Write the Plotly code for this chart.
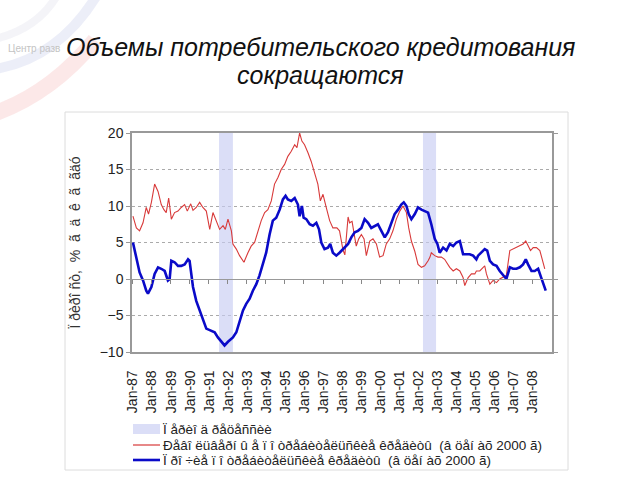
import plotly.graph_objects as go

# ---------------- data ----------------
red_x = [1987.00,1987.18,1987.35,1987.53,1987.70,1987.82,1987.97,1988.14,1988.32,1988.49,1988.63,1988.75,1988.88,
         1989.02,1989.19,1989.37,1989.54,1989.72,1989.86,1990.04,1990.16,1990.33,1990.51,1990.68,1990.86,1991.04,
         1991.21,1991.39,1991.56,1991.74,1991.86,1992.00,1992.18,1992.26,1992.44,1992.61,1992.84,1993.05,1993.22,
         1993.40,1993.58,1993.75,1993.93,1994.10,1994.28,1994.45,1994.63,1994.80,1994.98,1995.15,1995.33,1995.51,
         1995.63,1995.77,1995.89,1996.03,1996.21,1996.38,1996.56,1996.73,1996.86,1997.00,1997.17,1997.35,1997.52,
         1997.73,1997.87,1998.05,1998.15,1998.32,1998.40,1998.53,1998.67,1998.75,1998.88,1999.02,1999.16,1999.28,
         1999.46,1999.63,1999.81,1999.98,2000.16,2000.33,2000.51,2000.68,2000.86,2001.04,2001.21,2001.39,2001.51,
         2001.65,2001.83,2002.00,2002.18,2002.35,2002.53,2002.63,2002.70,2002.88,2003.05,2003.23,2003.40,2003.58,
         2003.67,2003.85,2004.02,2004.20,2004.37,2004.46,2004.64,2004.81,2004.99,2005.07,2005.25,2005.43,2005.51,
         2005.60,2005.78,2005.95,2006.13,2006.30,2006.48,2006.65,2006.83,2007.00,2007.18,2007.36,2007.53,2007.67,
         2007.79,2007.92,2008.06,2008.23,2008.41,2008.55,2008.67]
red_y = [8.6,7.0,6.6,7.7,9.8,8.9,10.5,13.0,12.0,10.2,9.5,9.1,11.1,
         8.2,9.1,9.3,9.8,10.2,9.3,10.3,9.4,9.8,10.5,9.8,9.3,6.8,
         9.1,8.0,6.8,7.3,6.8,8.2,6.6,4.8,4.1,3.2,2.3,3.6,4.5,
         5.0,6.6,8.0,9.1,9.5,10.7,13.0,13.9,15.0,15.7,16.8,17.5,18.4,
         18.0,20.0,18.9,18.4,17.3,16.1,14.5,13.0,10.7,11.6,9.8,8.0,7.0,
         7.0,6.6,4.0,3.3,8.5,7.7,7.9,5.7,4.5,5.5,6.1,5.5,3.2,
         5.2,5.5,4.8,3.0,3.2,4.8,5.5,6.6,8.2,9.3,10.0,9.1,7.0,
         5.2,3.8,2.0,1.6,1.8,2.5,3.0,3.6,3.2,3.0,3.0,2.7,2.0,
         1.6,1.1,1.4,1.1,0.2,-0.9,0.2,0.7,0.7,1.1,1.1,1.6,1.8,
         0.7,-0.7,-0.2,-0.5,0.0,0.2,0.5,3.9,4.1,4.3,4.5,4.8,5.2,
         4.5,3.9,4.3,4.3,3.9,2.5,1.4]

blue_x = [1987.00,1987.18,1987.35,1987.53,1987.70,1987.79,1987.97,1988.14,1988.32,1988.49,1988.67,1988.84,1988.93,
          1989.02,1989.19,1989.37,1989.54,1989.72,1989.90,1989.98,1990.16,1990.33,1990.51,1990.68,1990.86,1991.04,
          1991.30,1991.47,1991.65,1991.82,1992.00,1992.26,1992.44,1992.61,1992.79,1992.96,1993.14,1993.31,1993.49,
          1993.66,1993.84,1994.01,1994.19,1994.36,1994.54,1994.72,1994.89,1995.03,1995.15,1995.33,1995.51,1995.68,
          1995.77,1995.89,1995.98,1996.12,1996.30,1996.47,1996.65,1996.79,1996.91,1997.08,1997.26,1997.38,1997.52,
          1997.70,1997.87,1998.05,1998.14,1998.32,1998.49,1998.67,1998.84,1999.02,1999.19,1999.37,1999.54,1999.72,
          1999.89,2000.07,2000.25,2000.42,2000.60,2000.77,2000.95,2001.12,2001.25,2001.39,2001.51,2001.65,2001.83,
          2002.00,2002.18,2002.35,2002.53,2002.70,2002.88,2003.02,2003.14,2003.32,2003.50,2003.67,2003.85,2004.02,
          2004.20,2004.37,2004.55,2004.72,2004.90,2005.07,2005.16,2005.34,2005.51,2005.64,2005.78,2005.95,2006.13,
          2006.30,2006.48,2006.65,2006.83,2007.00,2007.18,2007.36,2007.53,2007.67,2007.79,2007.97,2008.14,2008.32,
          2008.44,2008.58,2008.72]
blue_y = [5.0,3.0,0.9,-0.2,-1.6,-2.0,-1.1,0.7,1.6,1.4,1.1,-0.2,0.0,
          2.5,2.3,1.8,1.8,2.0,2.7,2.5,-1.1,-3.0,-4.3,-5.7,-6.8,-7.0,
          -7.3,-8.0,-8.6,-9.1,-8.6,-8.0,-7.3,-5.7,-4.3,-3.4,-2.7,-1.6,-0.7,
          0.5,2.0,3.6,6.1,8.0,8.4,9.5,10.9,11.4,10.9,10.7,11.1,10.2,
          8.6,10.0,8.4,8.2,7.5,7.3,7.7,6.8,5.0,4.1,4.3,4.8,3.6,
          3.2,3.6,4.1,4.2,4.8,5.7,6.4,6.6,7.0,8.2,7.7,7.0,7.3,
          7.5,6.6,5.7,6.4,7.7,8.9,9.5,10.2,10.5,10.0,8.9,8.2,8.9,
          9.8,9.5,9.3,9.1,7.5,5.5,4.8,3.6,4.3,3.9,4.8,4.5,5.0,
          5.2,3.4,3.4,3.4,3.2,2.7,3.2,3.6,4.1,3.9,2.5,2.0,1.8,
          1.1,0.5,0.0,1.6,1.4,1.4,1.6,2.0,2.7,2.0,1.1,1.1,1.4,
          0.5,-0.7,-1.6]

recession_start = [1991.53, 2002.26]
recession_end = [1992.26, 2002.95]

tick_years = list(range(1987, 2009))
tick_labels = ["Jan-%02d" % (y % 100) for y in tick_years]

y_min, y_max = -10, 20

names = ["Ï åðèî ä ðåöåññèè",
         "Ðåâî ëüâåðí û å ï î òðåáèòåëüñêèå êðåäèòû  (â öåí àõ 2000 ã)",
         "Ï ðî ÷èå ï î òðåáèòåëüñêèå êðåäèòû  (â öåí àõ 2000 ã)"]
y_title = "Ï ðèðî ñò,  %  ã  ä  ê  ã  ãäó"
title1 = "Объемы потребительского кредитования"
title2 = "сокращаются"

# ---------------- figure ----------------
FONT = "Liberation Sans, Arial, sans-serif"
REC_COLOR = "rgba(200,205,242,0.65)"
RED = "#d83a3a"
BLUE = "#0a0ac8"
L, R, T, B = 132, 552, 133, 352
W, H = R - L, B - T
def px(x): return (x - L) / W
def py(y): return (B - y) / H

fig = go.Figure()

rx, ry = [], []
for a, b in zip(recession_start, recession_end):
    rx += [a, a, b, b, a, None]
    ry += [y_min, y_max, y_max, y_min, y_min, None]
fig.add_trace(go.Scatter(x=rx, y=ry, fill="toself", mode="lines",
                         fillcolor=REC_COLOR, line=dict(width=0, color=REC_COLOR),
                         name=names[0], hoverinfo="skip"))
fig.add_trace(go.Scatter(x=red_x, y=red_y, mode="lines", name=names[1],
                         line=dict(color=RED, width=1.1)))
fig.add_trace(go.Scatter(x=blue_x, y=blue_y, mode="lines", name=names[2],
                         line=dict(color=BLUE, width=2.6)))
fig.add_trace(go.Scatter(x=[tick_years[0]], y=[0], xaxis="x2", mode="markers",
                         marker=dict(opacity=0), showlegend=False, hoverinfo="skip"))

xr = [1986.95, 2009.05]
fig.update_layout(
    width=640, height=480,
    margin=dict(l=L, r=640 - R, t=T, b=480 - B, autoexpand=False),
    paper_bgcolor="white", plot_bgcolor="white",
    font=dict(family=FONT, color="#222"),
    showlegend=False,
    xaxis=dict(range=xr, tickvals=tick_years, ticktext=tick_labels, tickangle=-90, automargin=False,
               tickfont=dict(size=14, color="#222"), showgrid=False, zeroline=False,
               showline=True, linecolor="#999", linewidth=1.5, mirror=True,
               ticks="outside", ticklen=11, tickcolor="rgba(0,0,0,0)"),
    xaxis2=dict(range=xr, overlaying="x", anchor="free", position=(0 - y_min) / (y_max - y_min),
                tickvals=tick_years, showticklabels=False, showgrid=False, zeroline=False,
                automargin=False,
                showline=True, linecolor="#999", linewidth=1, ticks="outside", ticklen=4,
                tickcolor="#888"),
    yaxis=dict(range=[y_min, y_max], dtick=5, tickfont=dict(size=14, color="#222"), automargin=False,
               showgrid=True, gridcolor="#aaa", griddash="dot", gridwidth=1,
               zeroline=False, showline=True, linecolor="#999", linewidth=1.5, mirror="ticks",
               ticks="outside", ticklen=4, tickcolor="#999",
               title=dict(text=y_title, font=dict(size=14, color="#333"), standoff=16)),
)

# outer frame of chart object
fig.add_shape(type="rect", xref="paper", yref="paper",
              x0=px(65), x1=px(568), y0=py(470), y1=py(112),
              line=dict(color="#dcdcdc", width=1), fillcolor="rgba(0,0,0,0)", layer="below")

# faded logo swooshes
fig.add_shape(type="path", xref="paper", yref="paper", layer="below",
              path="M %f,%f Q %f,%f %f,%f" % (px(-10), py(115), px(50), py(95), px(95), py(40)),
              line=dict(color="rgba(240,150,150,0.22)", width=16))
fig.add_shape(type="path", xref="paper", yref="paper", layer="below",
              path="M %f,%f Q %f,%f %f,%f" % (px(-10), py(70), px(60), py(60), px(100), py(-10)),
              line=dict(color="rgba(160,170,220,0.2)", width=10))
fig.add_shape(type="path", xref="paper", yref="paper", layer="below",
              path="M %f,%f Q %f,%f %f,%f" % (px(-10), py(40), px(40), py(30), px(60), py(-10)),
              line=dict(color="rgba(200,200,220,0.2)", width=8))
fig.add_annotation(x=px(6), y=py(48), xref="paper", yref="paper", xanchor="left", yanchor="middle",
                   text="Центр разв", showarrow=False, font=dict(size=10, color="#c4c4c4", family=FONT))

fig.add_annotation(x=px(320), y=py(47), xref="paper", yref="paper", xanchor="center", yanchor="middle",
                   text="<i>%s</i>" % title1, showarrow=False,
                   font=dict(size=25, color="#111", family=FONT))
fig.add_annotation(x=px(320), y=py(75), xref="paper", yref="paper", xanchor="center", yanchor="middle",
                   text="<i>%s</i>" % title2, showarrow=False,
                   font=dict(size=25, color="#111", family=FONT))

# manual legend
rows = [429, 445, 460]
fig.add_shape(type="rect", xref="paper", yref="paper", x0=px(133), x1=px(160),
              y0=py(rows[0] + 5), y1=py(rows[0] - 5), line=dict(width=0), fillcolor=REC_COLOR)
fig.add_shape(type="line", xref="paper", yref="paper", x0=px(133), x1=px(160),
              y0=py(rows[1]), y1=py(rows[1]), line=dict(color=RED, width=1.2))
fig.add_shape(type="line", xref="paper", yref="paper", x0=px(133), x1=px(160),
              y0=py(rows[2]), y1=py(rows[2]), line=dict(color=BLUE, width=2.6))
for nm, ry_ in zip(names, rows):
    fig.add_annotation(x=px(161), y=py(ry_), xref="paper", yref="paper", xanchor="left", yanchor="middle",
                       text=nm, showarrow=False, font=dict(size=13.5, color="#222", family=FONT))

fig.write_html("out.html")
